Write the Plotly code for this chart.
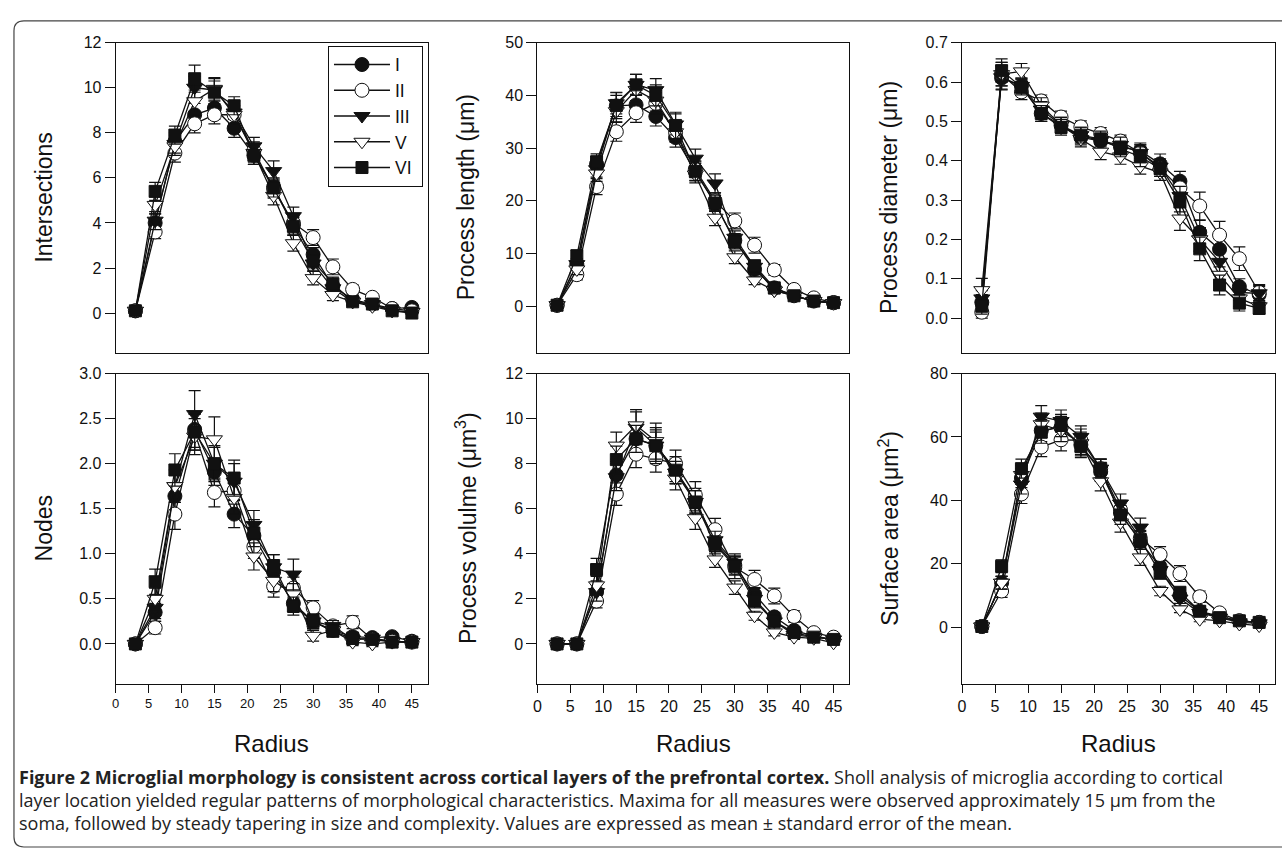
import plotly.graph_objects as go

# ---------------- data ----------------
RADIUS = [3, 6, 9, 12, 15, 18, 21, 24, 27, 30, 33, 36, 39, 42, 45]
LAYERS = ["I", "II", "III", "V", "VI"]

# Intersections
INT_I = [0.1, 4.0, 7.6, 8.8, 9.1, 8.2, 7.0, 5.6, 3.9, 2.6, 1.2, 0.6, 0.4, 0.2, 0.25]
INT_II = [0.1, 3.6, 7.1, 8.4, 8.8, 8.8, 7.2, 5.5, 4.0, 3.35, 2.05, 1.05, 0.7, 0.2, 0.1]
INT_III = [0.1, 4.1, 7.5, 10.0, 9.9, 8.9, 7.4, 6.3, 4.3, 2.2, 1.1, 0.5, 0.4, 0.1, 0.05]
INT_V = [0.1, 4.8, 7.4, 9.4, 9.95, 8.8, 7.1, 5.2, 3.1, 1.55, 0.8, 0.5, 0.3, 0.1, 0.05]
INT_VI = [0.1, 5.4, 7.9, 10.4, 9.8, 9.2, 7.0, 5.55, 3.85, 2.3, 1.3, 0.5, 0.4, 0.1, 0.0]
INT_I_E = [0.05, 0.4, 0.4, 0.5, 0.5, 0.4, 0.4, 0.4, 0.4, 0.3, 0.3, 0.2, 0.1, 0.1, 0.05]
INT_II_E = [0.05, 0.3, 0.4, 0.4, 0.4, 0.4, 0.4, 0.4, 0.4, 0.35, 0.35, 0.2, 0.15, 0.1, 0.05]
INT_III_E = [0.05, 0.4, 0.4, 0.5, 0.5, 0.5, 0.4, 0.45, 0.4, 0.3, 0.3, 0.15, 0.1, 0.1, 0.05]
INT_V_E = [0.05, 0.4, 0.4, 0.5, 0.5, 0.4, 0.4, 0.4, 0.35, 0.3, 0.25, 0.15, 0.1, 0.1, 0.05]
INT_VI_E = [0.05, 0.4, 0.4, 0.6, 0.5, 0.4, 0.4, 0.4, 0.4, 0.3, 0.3, 0.15, 0.1, 0.1, 0.05]

# Process length (um)
LEN_I = [0.2, 8.0, 27.0, 38.0, 38.2, 36.0, 32.0, 25.5, 19.5, 12.5, 7.0, 3.5, 2.0, 1.0, 0.7]
LEN_II = [0.2, 6.0, 22.7, 33.1, 36.7, 38.5, 33.0, 26.0, 20.0, 16.2, 11.6, 6.9, 3.2, 1.6, 0.7]
LEN_III = [0.2, 8.0, 26.0, 38.5, 42.0, 41.0, 34.5, 28.0, 23.3, 13.0, 7.5, 3.0, 2.0, 1.0, 0.6]
LEN_V = [0.2, 7.0, 25.2, 37.0, 41.0, 39.0, 33.0, 25.0, 16.8, 9.3, 4.9, 3.0, 2.0, 1.0, 0.6]
LEN_VI = [0.2, 9.6, 27.4, 38.1, 42.0, 40.0, 34.3, 25.6, 19.6, 12.2, 7.7, 3.5, 2.0, 1.0, 0.7]
LEN_I_E = [0.3, 1.0, 1.5, 2.0, 2.0, 1.8, 1.8, 1.6, 1.5, 1.3, 1.0, 0.7, 0.5, 0.3, 0.2]
LEN_II_E = [0.3, 1.0, 1.5, 1.8, 1.8, 2.0, 1.8, 1.6, 1.5, 1.5, 1.5, 1.0, 0.6, 0.4, 0.2]
LEN_III_E = [0.3, 1.0, 1.5, 2.0, 2.0, 2.2, 2.0, 1.8, 1.8, 1.3, 1.0, 0.6, 0.4, 0.3, 0.2]
LEN_V_E = [0.3, 1.0, 1.5, 2.0, 2.0, 2.0, 1.8, 1.6, 1.5, 1.2, 0.8, 0.6, 0.4, 0.3, 0.2]
LEN_VI_E = [0.3, 1.0, 1.5, 2.5, 2.0, 2.0, 2.5, 1.8, 1.5, 1.3, 1.0, 0.6, 0.4, 0.3, 0.2]

# Process diameter (um)
DIA_I = [0.04, 0.61, 0.59, 0.52, 0.49, 0.46, 0.45, 0.435, 0.425, 0.392, 0.348, 0.218, 0.175, 0.08, 0.06]
DIA_II = [0.015, 0.62, 0.575, 0.552, 0.511, 0.486, 0.469, 0.45, 0.42, 0.38, 0.331, 0.285, 0.211, 0.151, 0.065]
DIA_III = [0.05, 0.612, 0.59, 0.53, 0.49, 0.465, 0.45, 0.44, 0.42, 0.385, 0.31, 0.2, 0.143, 0.065, 0.063]
DIA_V = [0.071, 0.62, 0.627, 0.54, 0.49, 0.455, 0.423, 0.411, 0.386, 0.37, 0.253, 0.2, 0.11, 0.05, 0.03]
DIA_VI = [0.03, 0.629, 0.587, 0.52, 0.485, 0.465, 0.455, 0.43, 0.41, 0.38, 0.295, 0.176, 0.084, 0.038, 0.025]
DIA_I_E = [0.02, 0.03, 0.02, 0.02, 0.02, 0.02, 0.02, 0.02, 0.02, 0.025, 0.025, 0.03, 0.03, 0.02, 0.02]
DIA_II_E = [0.015, 0.03, 0.02, 0.015, 0.015, 0.015, 0.015, 0.015, 0.02, 0.02, 0.02, 0.035, 0.035, 0.03, 0.02]
DIA_III_E = [0.02, 0.03, 0.02, 0.02, 0.02, 0.02, 0.02, 0.02, 0.02, 0.02, 0.025, 0.03, 0.03, 0.02, 0.02]
DIA_V_E = [0.03, 0.03, 0.02, 0.02, 0.02, 0.02, 0.02, 0.02, 0.02, 0.02, 0.03, 0.03, 0.02, 0.02, 0.02]
DIA_VI_E = [0.02, 0.03, 0.02, 0.02, 0.02, 0.02, 0.02, 0.02, 0.025, 0.02, 0.025, 0.03, 0.025, 0.02, 0.015]

# Nodes
NOD_I = [0.0, 0.35, 1.64, 2.38, 1.91, 1.44, 1.2, 0.8, 0.45, 0.25, 0.15, 0.08, 0.07, 0.08, 0.03]
NOD_II = [0.0, 0.18, 1.44, 2.35, 1.68, 1.7, 1.08, 0.64, 0.62, 0.4, 0.2, 0.24, 0.05, 0.03, 0.02]
NOD_III = [0.0, 0.4, 1.75, 2.55, 2.0, 1.8, 1.32, 0.85, 0.77, 0.25, 0.2, 0.05, 0.06, 0.03, 0.02]
NOD_V = [0.0, 0.5, 1.75, 2.3, 2.27, 1.62, 0.97, 0.7, 0.55, 0.09, 0.15, 0.02, 0.0, 0.02, 0.02]
NOD_VI = [0.0, 0.69, 1.93, 2.35, 2.0, 1.84, 1.23, 0.87, 0.42, 0.25, 0.14, 0.06, 0.05, 0.02, 0.02]
NOD_I_E = [0.02, 0.1, 0.15, 0.2, 0.15, 0.15, 0.15, 0.12, 0.1, 0.08, 0.06, 0.05, 0.04, 0.04, 0.02]
NOD_II_E = [0.02, 0.07, 0.17, 0.2, 0.16, 0.15, 0.13, 0.12, 0.12, 0.08, 0.06, 0.07, 0.04, 0.03, 0.02]
NOD_III_E = [0.02, 0.12, 0.18, 0.26, 0.2, 0.2, 0.16, 0.14, 0.17, 0.08, 0.06, 0.05, 0.04, 0.03, 0.02]
NOD_V_E = [0.02, 0.12, 0.18, 0.2, 0.25, 0.18, 0.15, 0.12, 0.12, 0.06, 0.06, 0.04, 0.03, 0.03, 0.02]
NOD_VI_E = [0.02, 0.14, 0.18, 0.2, 0.18, 0.2, 0.15, 0.12, 0.1, 0.08, 0.06, 0.05, 0.04, 0.03, 0.02]

# Process volume (um^3)
VOL_I = [0.0, 0.0, 2.3, 7.5, 9.1, 8.8, 7.7, 6.4, 4.5, 3.5, 2.2, 1.2, 0.6, 0.35, 0.2]
VOL_II = [0.0, 0.0, 1.9, 6.65, 8.42, 8.22, 8.0, 6.6, 5.07, 3.4, 2.86, 2.13, 1.22, 0.5, 0.3]
VOL_III = [0.0, 0.0, 2.3, 7.4, 9.6, 8.8, 7.6, 6.3, 4.6, 3.6, 2.0, 1.0, 0.4, 0.3, 0.2]
VOL_V = [0.0, 0.0, 2.6, 8.8, 9.7, 9.0, 7.34, 5.58, 3.75, 2.5, 1.25, 0.51, 0.3, 0.25, 0.05]
VOL_VI = [0.0, 0.0, 3.3, 8.18, 9.1, 8.8, 7.71, 6.3, 4.4, 3.45, 1.9, 1.0, 0.5, 0.3, 0.2]
VOL_I_E = [0.05, 0.05, 0.4, 0.6, 0.6, 0.6, 0.5, 0.5, 0.4, 0.4, 0.3, 0.2, 0.15, 0.1, 0.05]
VOL_II_E = [0.05, 0.05, 0.3, 0.5, 0.6, 0.6, 0.6, 0.6, 0.5, 0.5, 0.4, 0.35, 0.25, 0.15, 0.1]
VOL_III_E = [0.05, 0.05, 0.4, 0.6, 0.7, 0.7, 0.5, 0.5, 0.4, 0.4, 0.3, 0.2, 0.15, 0.1, 0.05]
VOL_V_E = [0.05, 0.05, 0.4, 0.6, 0.7, 0.8, 0.5, 0.5, 0.35, 0.3, 0.2, 0.15, 0.1, 0.1, 0.05]
VOL_VI_E = [0.05, 0.05, 0.5, 0.6, 0.6, 0.8, 0.6, 0.5, 0.4, 0.4, 0.3, 0.2, 0.15, 0.1, 0.05]

# Surface area (um^2)
SUR_I = [0.2, 14.0, 47.0, 62.0, 63.0, 57.5, 49.0, 36.0, 27.0, 19.0, 10.0, 5.0, 3.5, 2.0, 1.5]
SUR_II = [0.2, 11.4, 42.0, 56.8, 59.1, 59.0, 50.0, 37.0, 28.0, 22.9, 16.9, 9.6, 4.5, 2.0, 1.5]
SUR_III = [0.2, 14.0, 45.0, 66.4, 65.0, 60.0, 50.0, 39.0, 31.4, 18.0, 9.0, 4.5, 3.0, 1.5, 1.2]
SUR_V = [0.2, 14.0, 48.0, 64.0, 62.0, 58.0, 46.0, 33.0, 22.0, 11.4, 5.6, 2.5, 2.0, 1.0, 0.5]
SUR_VI = [0.2, 19.2, 50.0, 61.5, 63.6, 57.0, 50.0, 35.4, 27.6, 17.1, 11.0, 5.0, 3.0, 2.0, 1.5]
SUR_I_E = [0.5, 2, 3, 3.5, 3.5, 3.5, 3, 3, 2.5, 2, 1.5, 1, 0.8, 0.5, 0.4]
SUR_II_E = [0.5, 2, 3, 3, 3.5, 3.5, 3, 3, 2.5, 2.5, 2.5, 1.8, 1, 0.6, 0.4]
SUR_III_E = [0.5, 2, 3, 3.5, 3.5, 3.5, 3, 3, 3, 2, 1.5, 1, 0.8, 0.5, 0.4]
SUR_V_E = [0.5, 2, 3, 3.5, 3.5, 3.5, 3, 3, 2.5, 1.5, 1, 0.8, 0.5, 0.5, 0.4]
SUR_VI_E = [0.5, 2, 3, 3.5, 3.5, 3.5, 3, 3, 2.5, 2, 1.5, 1, 0.8, 0.5, 0.4]

PANEL_TITLES = ["Intersections", "Process length (μm)", "Process diameter (μm)",
                "Nodes", "Process volulme (μm<sup>3</sup>)", "Surface area (μm<sup>2</sup>)"]
X_TICKS = [0, 5, 10, 15, 20, 25, 30, 35, 40, 45]
X_TITLE = "Radius"
CAPTION_LINES = [
    "<b>Figure 2 Microglial morphology is consistent across cortical layers of the prefrontal cortex.</b>"
    " Sholl analysis of microglia according to cortical",
    "layer location yielded regular patterns of morphological characteristics. Maxima for all measures"
    " were observed approximately 15 μm from the",
    "soma, followed by steady tapering in size and complexity. Values are expressed as mean ± standard"
    " error of the mean.",
]

PANELS = [
    ([INT_I, INT_II, INT_III, INT_V, INT_VI], [INT_I_E, INT_II_E, INT_III_E, INT_V_E, INT_VI_E]),
    ([LEN_I, LEN_II, LEN_III, LEN_V, LEN_VI], [LEN_I_E, LEN_II_E, LEN_III_E, LEN_V_E, LEN_VI_E]),
    ([DIA_I, DIA_II, DIA_III, DIA_V, DIA_VI], [DIA_I_E, DIA_II_E, DIA_III_E, DIA_V_E, DIA_VI_E]),
    ([NOD_I, NOD_II, NOD_III, NOD_V, NOD_VI], [NOD_I_E, NOD_II_E, NOD_III_E, NOD_V_E, NOD_VI_E]),
    ([VOL_I, VOL_II, VOL_III, VOL_V, VOL_VI], [VOL_I_E, VOL_II_E, VOL_III_E, VOL_V_E, VOL_VI_E]),
    ([SUR_I, SUR_II, SUR_III, SUR_V, SUR_VI], [SUR_I_E, SUR_II_E, SUR_III_E, SUR_V_E, SUR_VI_E]),
]

# ---------------- styles / layout ----------------
W, H = 1282, 849
FONT = "Liberation Sans, Arial, Helvetica, sans-serif"
CAP_FONT = "Open Sans, Noto Sans, sans-serif"
INK = "#111111"

MARKERS = [
    dict(symbol="circle", color=INK, size=14),
    dict(symbol="circle", color="white", size=14),
    dict(symbol="triangle-down", color=INK, size=14),
    dict(symbol="triangle-down", color="white", size=14),
    dict(symbol="square", color=INK, size=12),
]

COL_PX = [(112, 425), (535, 848), (961, 1275)]
ROW_PX = [(35, 348), (369, 682)]
Y_RANGES = [(-1.76, 12), (-8.8, 50), (-0.088, 0.7), (-0.44, 3.0), (-1.76, 12), (-17.8, 80)]
Y_DTICK = [2, 10, 0.1, 0.5, 2, 20]
Y_FMT = ["", "", ".1f", ".1f", "", ""]
Y_TITLE_OFF = [72, 72, 74, 72, 72, 74]
CAPTION_Y = [776, 799.5, 823]


def px_x(p):
    return p / W


def px_y(p):
    return 1 - p / H


fig = go.Figure()
layout = dict(
    width=W, height=H,
    margin=dict(l=0, r=0, t=0, b=0),
    paper_bgcolor="white", plot_bgcolor="white",
    font=dict(family=FONT, color=INK),
    showlegend=True,
    legend=dict(x=px_x(325), y=px_y(38), xanchor="left", yanchor="top",
                bordercolor=INK, borderwidth=1, bgcolor="white",
                font=dict(size=17.5, family=FONT), tracegroupgap=0,
                itemwidth=56),
)
annotations = []

for k in range(6):
    r, c = divmod(k, 3)
    xa = "x" if k == 0 else f"x{k + 1}"
    ya = "y" if k == 0 else f"y{k + 1}"
    xl, xr = COL_PX[c]
    yt, yb = ROW_PX[r]
    values, errors = PANELS[k]
    for j, name in enumerate(LAYERS):
        m = MARKERS[j]
        fig.add_trace(go.Scatter(
            x=RADIUS, y=values[j], name=name + "\u00a0", xaxis=xa, yaxis=ya,
            mode="lines+markers",
            line=dict(color=INK, width=1.3),
            marker=dict(symbol=m["symbol"], size=m["size"], color=m["color"],
                        line=dict(color=INK, width=1)),
            error_y=dict(type="data", array=errors[j], visible=True,
                         color=INK, thickness=1.2, width=6),
            showlegend=(k == 0),
            legendgroup=name,
        ))
    bottom = r == 1
    layout["xaxis" if k == 0 else f"xaxis{k + 1}"] = dict(
        domain=[px_x(xl), px_x(xr)], anchor=ya, range=[0, 47.4],
        showline=True, mirror=True, linecolor=INK, linewidth=1,
        showgrid=False, zeroline=False,
        ticks="outside" if bottom else "", ticklen=8, tickcolor=INK,
        tickvals=X_TICKS, showticklabels=bottom,
        tickfont=dict(size=13 if c == 0 else 16, family=FONT),
    )
    layout["yaxis" if k == 0 else f"yaxis{k + 1}"] = dict(
        domain=[px_y(yb), px_y(yt)], anchor=xa, range=list(Y_RANGES[k]),
        showline=True, mirror=True, linecolor=INK, linewidth=1,
        showgrid=False, zeroline=False,
        ticks="outside", ticklen=10, tickcolor=INK,
        tick0=0, dtick=Y_DTICK[k], tickformat=Y_FMT[k],
        tickfont=dict(size=16, family=FONT),
    )
    annotations.append(dict(
        text=PANEL_TITLES[k], xref="paper", yref="paper",
        x=px_x(xl - Y_TITLE_OFF[k]), y=px_y((yt + yb) / 2),
        xanchor="center", yanchor="middle", textangle=-90, showarrow=False,
        font=dict(size=23, family=FONT, color=INK),
    ))
    if bottom:
        annotations.append(dict(
            text=X_TITLE, xref="paper", yref="paper",
            x=px_x((xl + xr) / 2), y=px_y(742),
            xanchor="center", yanchor="middle", showarrow=False,
            font=dict(size=24, family=FONT, color=INK),
        ))

for line, yc in zip(CAPTION_LINES, CAPTION_Y):
    annotations.append(dict(
        text=line, xref="paper", yref="paper",
        x=px_x(13), y=px_y(yc), xanchor="left", yanchor="middle", align="left",
        showarrow=False,
        font=dict(size=18, family=CAP_FONT, color="#222222"),
    ))
layout["annotations"] = annotations

# rounded frame around the figure
xl0, xr0 = px_x(10), 1.02
yt0, yb0 = px_y(13), px_y(847)
dx, dy = 10 / W, 10 / H
layout["shapes"] = [dict(
    type="path", xref="paper", yref="paper",
    path=(f"M {xr0},{yt0} L {xl0 + dx},{yt0} Q {xl0},{yt0} {xl0},{yt0 - dy} "
          f"L {xl0},{yb0 + dy} Q {xl0},{yb0} {xl0 + dx},{yb0} L {xr0},{yb0}"),
    line=dict(color="#444444", width=1.2),
)]

fig.update_layout(**layout)
fig.write_html(
    "out.html",
    config={"displayModeBar": False},
    post_script="document.body.style.margin='0';document.body.style.overflow='hidden';",
)
